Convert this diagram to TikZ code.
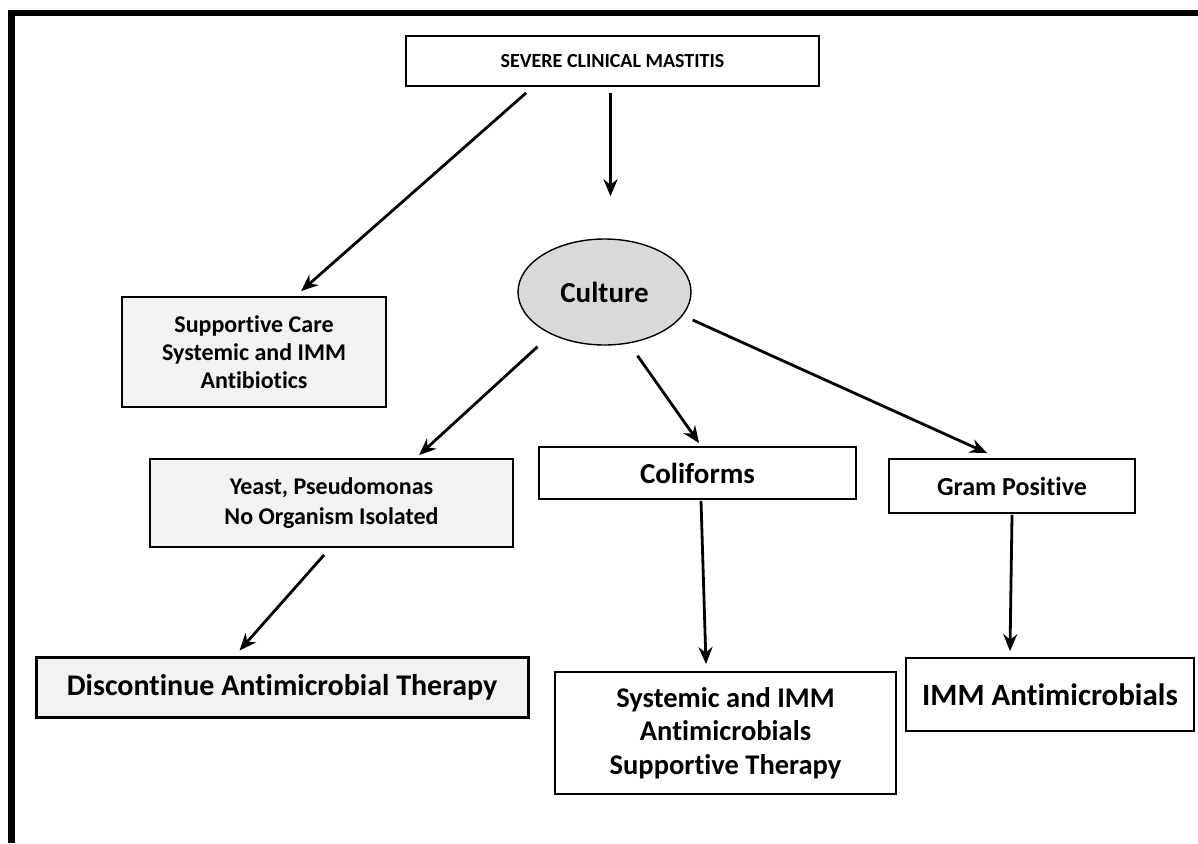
\documentclass[tikz,border=0pt]{standalone}
\usepackage{fontspec}
\setmainfont{Carlito}[Ligatures=NoCommon]
\usetikzlibrary{arrows.meta,shapes.geometric}

\tikzset{
  box/.style={draw, line width=1.8pt, fill=white, align=center, inner sep=0pt, font=\bfseries},
  greybox/.style={box, fill=gray!10},
  arr/.style={-{Stealth[length=17pt,width=14pt]}, line width=2.8pt}
}

\begin{document}
\begin{tikzpicture}[x=1pt, y=-1pt]
		\useasboundingbox (0,0) rectangle (1198,843);
		% frame, cut at right and bottom
		\fill (8,10) rectangle (1198,16);
		\fill (8,10) rectangle (15,843);
		
		\node[box, minimum width=413pt, minimum height=50pt, font=\bfseries\fontsize{20}{24}\selectfont] (title) at (612.5,61) {SEVERE CLINICAL MASTITIS};
		\node[draw, ellipse, line width=1.4pt, fill=gray!30, minimum width=173pt, minimum height=106pt, inner sep=0pt, font=\bfseries\fontsize{29}{35}\selectfont] (culture) at (604.5,292) {Culture};
		
		\node[greybox, minimum width=264pt, minimum height=110pt, font=\bfseries\fontsize{24}{28}\selectfont] (support) at (254,352) {Supportive Care\\Systemic and IMM\\Antibiotics};
		\node[greybox, minimum width=363pt, minimum height=88pt, font=\bfseries\fontsize{24}{30}\selectfont] (yeast) at (331.5,503) {Yeast, Pseudomonas\\No Organism Isolated};
		\node[box, minimum width=317pt, minimum height=52pt, font=\bfseries\fontsize{29}{35}\selectfont] (coli) at (697.5,473) {Coliforms};
		\node[box, minimum width=246pt, minimum height=54pt, font=\bfseries\fontsize{26}{31}\selectfont] (gram) at (1012,486) {Gram Positive};
		
		\node[greybox, line width=3pt, minimum width=492pt, minimum height=60pt, font=\bfseries\fontsize{30}{36}\selectfont] (disc) at (282,687) {Discontinue Antimicrobial Therapy};
		\node[box, minimum width=341pt, minimum height=122pt, font=\bfseries\fontsize{28.5}{33.5}\selectfont] (syst) at (725.5,733) {Systemic and IMM\\Antimicrobials\\Supportive Therapy};
		\node[box, minimum width=288pt, minimum height=73pt, font=\bfseries\fontsize{31}{37}\selectfont] (imm) at (1050,694.5) {IMM Antimicrobials};
		
		\draw[arr] ([xshift=121pt,yshift=-6pt]title.south west) -- ([xshift=180pt,yshift=5pt]support.north west);
		\draw[arr] ([xshift=-2pt,yshift=-6pt]title.south) -- ([xshift=6pt,yshift=42pt]culture.north);
		\draw[arr] ([xshift=-67pt,yshift=-1pt]culture.south) -- ([xshift=270pt,yshift=3pt]yeast.north west);
		\draw[arr] ([xshift=33pt,yshift=-10pt]culture.south) -- ([xshift=161pt,yshift=3pt]coli.north west);
		\draw[arr] ([xshift=1pt,yshift=-28pt]culture.east) -- ([xshift=99pt,yshift=5pt]gram.north west);
		\draw[arr] ([xshift=175pt,yshift=-7pt]yeast.south west) -- ([xshift=205pt,yshift=5pt]disc.north west);
		\draw[arr] ([xshift=3.5pt,yshift=-1pt]coli.south) -- ([xshift=-19.5pt,yshift=7pt]syst.north);
		\draw[arr] ([yshift=-1pt]gram.south) -- ([xshift=-40pt,yshift=6pt]imm.north);
	\end{tikzpicture}
\end{document}
